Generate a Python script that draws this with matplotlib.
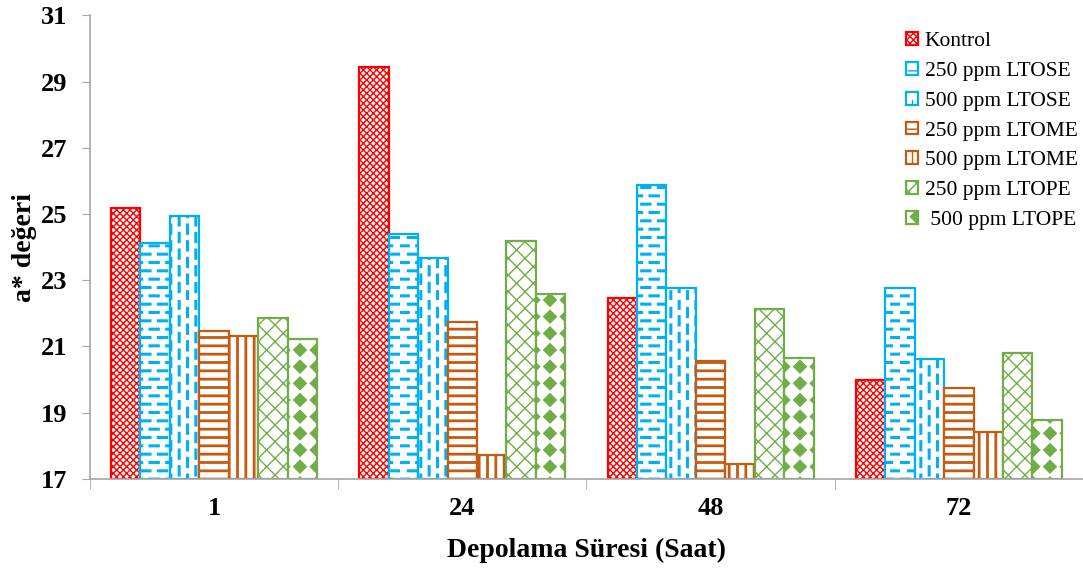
import matplotlib
matplotlib.use('Agg')
import matplotlib.pyplot as plt
import matplotlib.hatch as mhatch
from matplotlib.path import Path
import numpy as np

plt.rcParams['font.family'] = ['Liberation Serif', 'DejaVu Serif']
plt.rcParams['hatch.linewidth'] = 1.6


# %% Extra hatch patterns (Excel-like dashes and filled diamonds)

class DashedHatch(mhatch.HatchPatternBase):
    """Rows of dashes, every other row shifted by half a dash period."""
    char = 'o'
    vertical = False

    def __init__(self, hatch, density):
        self.num_lines = int(hatch.count(self.char) * density * 2)
        self.num_dashes = self.num_lines // 2
        self.num_vertices = self.num_lines * self.num_dashes * 2

    def set_vertices_and_codes(self, vertices, codes):
        n, nd = self.num_lines, self.num_dashes
        rows = (np.arange(n) + 0.5) / n
        pts = []
        for i, r in enumerate(rows):
            shift = (i % 2) * 0.5 / nd
            for j in range(nd):
                a = j / nd + shift
                b = a + 0.5 / nd
                pts += [(a, r), (b, r)]
        pts = np.array(pts)
        if self.vertical:
            pts = pts[:, ::-1]
        vertices[:] = pts
        codes[0::2] = Path.MOVETO
        codes[1::2] = Path.LINETO


class VerticalDashedHatch(DashedHatch):
    char = 'O'
    vertical = True


class DiamondHatch(mhatch.HatchPatternBase):
    """Filled diamonds on a square grid."""
    size = 0.38

    def __init__(self, hatch, density):
        self.num_rows = int(hatch.count('*') * density)
        self.num_vertices = (self.num_rows + 1) ** 2 * 5 if self.num_rows else 0

    def set_vertices_and_codes(self, vertices, codes):
        n = self.num_rows
        shape = Path.unit_regular_polygon(4)
        sv = shape.vertices * self.size / n
        k = 0
        for i in range(n + 1):
            for j in range(n + 1):
                vertices[k:k + 5] = sv + [i / n, j / n]
                codes[k:k + 5] = shape.codes
                k += 5


types = mhatch._hatch_types
types[types.index(mhatch.SmallCircles)] = DashedHatch
types[types.index(mhatch.LargeCircles)] = VerticalDashedHatch
types[types.index(mhatch.Stars)] = DiamondHatch

# %% Data: a* value per storage time
hours = ['1', '24', '48', '72']
series = ['Kontrol', '250 ppm LTOSE', '500 ppm LTOSE', '250 ppm LTOME',
          '500 ppm LTOME', '250 ppm LTOPE', ' 500 ppm LTOPE']
kontrol = [25.19, 29.43, 22.47, 19.98]
ltose_250 = [24.12, 24.40, 25.89, 22.76]
ltose_500 = [24.93, 23.67, 22.76, 20.63]
ltome_250 = [21.47, 21.75, 20.56, 19.75]
ltome_500 = [21.32, 17.72, 17.44, 18.42]
ltope_250 = [21.86, 24.17, 22.14, 20.80]
ltope_500 = [21.21, 22.59, 20.64, 18.79]

values = [kontrol, ltose_250, ltose_500, ltome_250, ltome_500, ltope_250, ltope_500]
colors = ['#FF0000', '#00B0F0', '#00B0F0', '#C55A11', '#C55A11', '#70AD47', '#70AD47']
hatches = ['xxxxx', 'o', 'O', '--', '||', 'xx', '*']
hatch_lw = [1.0, 2.2, 2.2, 2.0, 2.0, 1.0, 1.0]

# %% Plot
fig = plt.figure(figsize=(10.83, 5.70), dpi=100)
ax = fig.add_axes([0.083, 0.16, 0.917, 0.813])

base = 17
x = np.arange(len(hours))
width = 0.83 / len(series)
for i, (vals, c, h, lab) in enumerate(zip(values, colors, hatches, series)):
    offs = (i - (len(series) - 1) / 2) * width
    bars = ax.bar(x + offs, np.array(vals) - base, width, bottom=base,
                  facecolor='white', edgecolor=c, hatch=h, linewidth=1.6, label=lab)
    for b in bars:
        if hasattr(b, 'set_hatch_linewidth'):
            b.set_hatch_linewidth(hatch_lw[i])

ax.set_ylim(17, 31)
ax.set_yticks(np.arange(17, 32, 2))
ax.set_xlim(-0.5, len(hours) - 0.5)
ax.set_xticks(x)
ax.set_xticklabels(hours)
ax.set_xticks(np.arange(-0.5, len(hours), 1.0), minor=True)

for s in ['top', 'right']:
    ax.spines[s].set_visible(False)
for s in ['left', 'bottom']:
    ax.spines[s].set_color('#A6A6A6')
    ax.spines[s].set_linewidth(1.2)

ax.tick_params(axis='x', which='major', length=0, pad=13)
ax.tick_params(axis='x', which='minor', length=7, color='#A6A6A6', direction='out')
ax.tick_params(axis='y', length=6, color='#A6A6A6', direction='out', pad=10)
for t in ax.get_xticklabels() + ax.get_yticklabels():
    t.set_fontsize(19)
    t.set_fontweight('bold')

ax.set_xlabel('Depolama Süresi (Saat)', fontsize=20, fontweight='bold', labelpad=13)
ax.set_ylabel('a* değeri', fontsize=20, fontweight='bold', labelpad=3)

leg = ax.legend(loc='upper left', bbox_to_anchor=(0.837, 0.944), bbox_transform=fig.transFigure,
                frameon=False, fontsize=15.5, handlelength=0.55, handleheight=0.55,
                handletextpad=0.3, labelspacing=0.5, borderpad=0, borderaxespad=0)
for p in leg.get_patches():
    if hasattr(p, 'set_hatch_linewidth'):
        p.set_hatch_linewidth(1.0)

plt.savefig('out.png', dpi=100)
